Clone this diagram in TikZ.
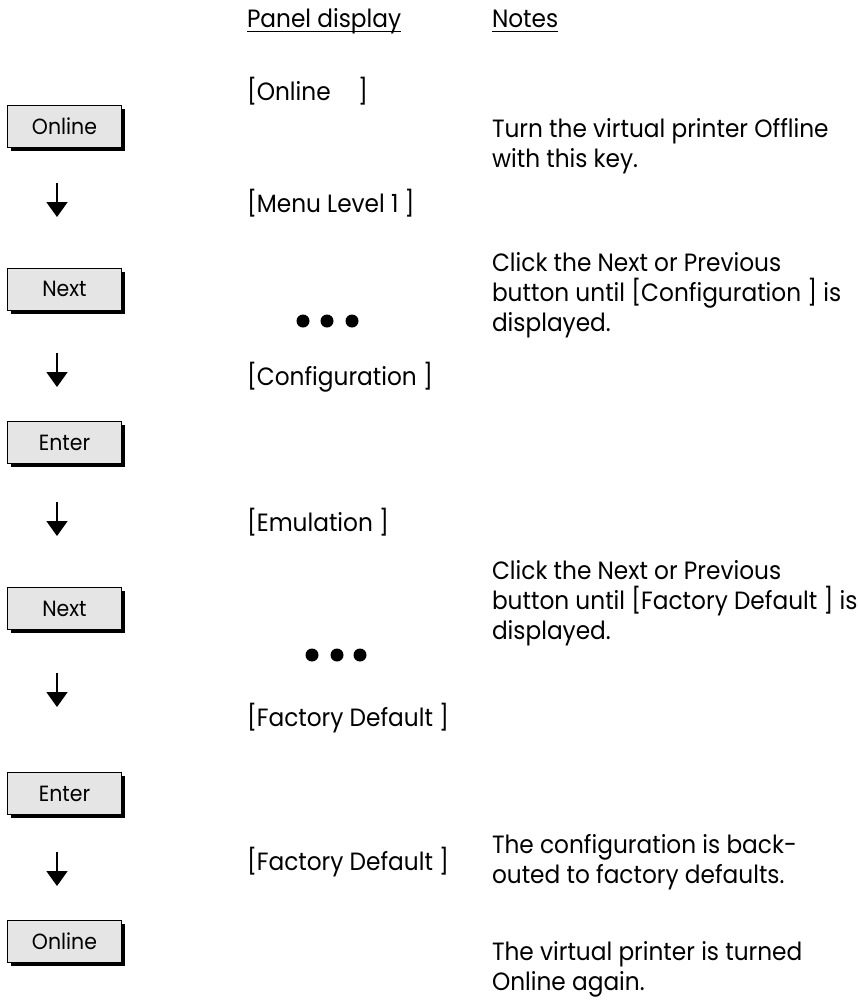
\documentclass[tikz,border=0pt]{standalone}
\usepackage{fontspec}
\setmainfont{Poppins}[FakeStretch=0.93]
\usetikzlibrary{arrows.meta,shadows}
\begin{document}
\begin{tikzpicture}[x=1pt,y=-1pt,
  every node/.style={inner sep=0pt,outer sep=0pt},
  txt/.style={anchor=base west,font=\fontsize{25}{30}\selectfont,align=left},
  hdr/.style={anchor=base west,font=\fontsize{25}{30}\selectfont},
  btn/.style={draw=black,line width=0.8pt,fill=black!10,minimum width=114pt,minimum height=42pt,
    font=\fontsize{22}{26}\selectfont,
    drop shadow={shadow xshift=3.5pt,shadow yshift=-3.5pt,fill=black,opacity=1}},
  arr/.style={line width=2pt,-{Triangle[width=21pt,length=15pt]}},
  dot/.style={fill=black},
  uline/.style={line width=1pt}
]
\useasboundingbox (0,0) rectangle (858,1002);
% headers
\node[hdr] (hpanel) at (247,27) {Panel display};
\node[hdr] (hnotes) at (492,27) {Notes};
\draw[uline] ([yshift=-4.5pt]hpanel.base west) -- ([yshift=-4.5pt]hpanel.base east);
\draw[uline] ([yshift=-4.5pt]hnotes.base west) -- ([yshift=-4.5pt]hnotes.base east);
% buttons
\node[btn] (b1) at (64.5,126.5) {Online};
\node[btn] (b2) at (64.5,289) {Next};
\node[btn] (b3) at (64.5,442.5) {Enter};
\node[btn] (b4) at (64.5,608.5) {Next};
\node[btn] (b5) at (64.5,793.5) {Enter};
\node[btn] (b6) at (64.5,941.5) {Online};
% arrows
\coordinate (a1s) at (57,183); \coordinate (a1e) at (57,217);
\coordinate (a2s) at (57,353); \coordinate (a2e) at (57,387);
\coordinate (a3s) at (57,502); \coordinate (a3e) at (57,536);
\coordinate (a4s) at (57,673); \coordinate (a4e) at (57,707);
\coordinate (a5s) at (57,852); \coordinate (a5e) at (57,886);
\draw[arr] (a1s) -- (a1e);
\draw[arr] (a2s) -- (a2e);
\draw[arr] (a3s) -- (a3e);
\draw[arr] (a4s) -- (a4e);
\draw[arr] (a5s) -- (a5e);
% panel display
\node[txt] (p1) at (247,100) {[Online\hspace{1.1em}]};
\node[txt] (p2) at (247,212) {[Menu Level 1 ]};
\node[txt] (p3) at (247,385) {[Configuration ]};
\node[txt] (p4) at (247,531) {[Emulation ]};
\node[txt] (p5) at (247,726) {[Factory Default ]};
\node[txt] (p6) at (247,870) {[Factory Default ]};
% dots
\fill[dot] (303,321) circle (6.5);
\fill[dot] (327,321) circle (6.5);
\fill[dot] (352,321) circle (6.5);
\fill[dot] (312,655) circle (6.5);
\fill[dot] (337,655) circle (6.5);
\fill[dot] (360,655) circle (6.5);
% notes (anchored at the baseline of the last line)
\node[txt] (n1) at (492,167) {Turn the virtual printer Offline\\with this key.};
\node[txt] (n2) at (492,331) {Click the Next or Previous\\button until [Configuration ] is\\displayed.};
\node[txt] (n3) at (492,639) {Click the Next or Previous\\button until [Factory Default ] is\\displayed.};
\node[txt] (n4) at (492,883) {The configuration is back-\\outed to factory defaults.};
\node[txt] (n5) at (492,990) {The virtual printer is turned\\Online again.};
\end{tikzpicture}
\end{document}
